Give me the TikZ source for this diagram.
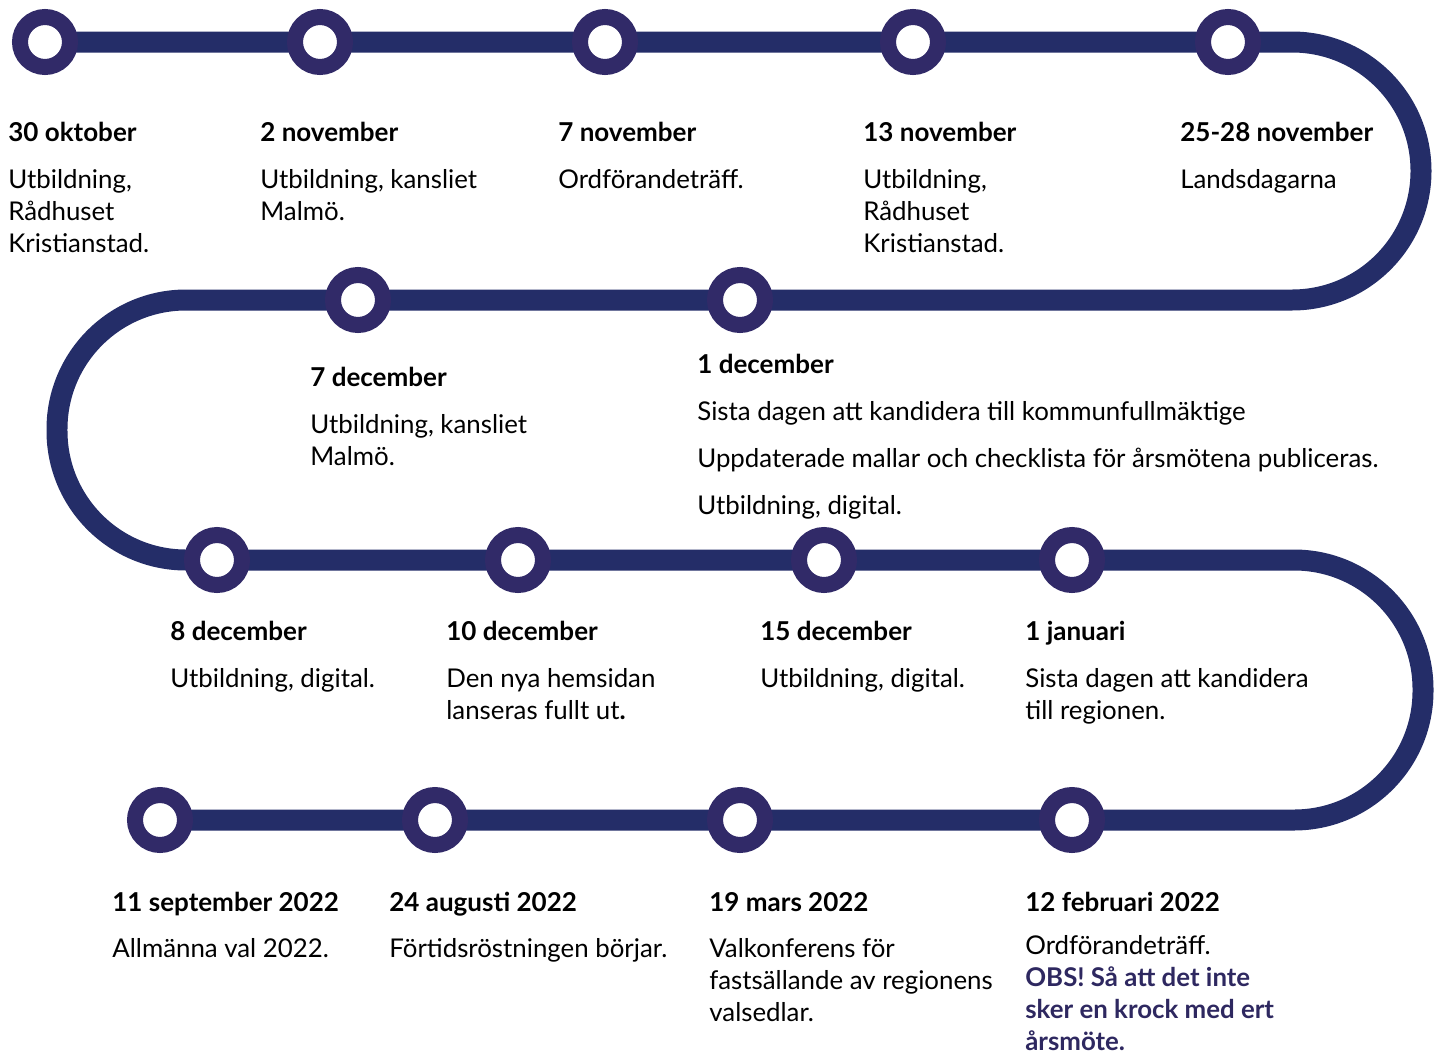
\documentclass[tikz,border=0pt]{standalone}
\usepackage{fontspec}
\setmainfont{Lato}
\usetikzlibrary{backgrounds}
\definecolor{trackblue}{RGB}{36,45,104}
\definecolor{ringblue}{RGB}{49,42,104}
\definecolor{obsblue}{RGB}{46,40,96}

\begin{document}
\begin{tikzpicture}[x=0.02cm,y=-0.02cm,
  station/.style={circle,draw=ringblue,fill=white,line width=0.32cm,minimum size=1cm,inner sep=0pt},
  datum/.style={anchor=base west,inner sep=0pt,font=\fontsize{14.8}{18.1}\selectfont\bfseries},
  info/.style={anchor=base west,inner sep=0pt,align=left,font=\fontsize{14.7}{18.1}\selectfont},
  track/.style={trackblue,line width=0.42cm,rounded corners=2.58cm}]
\useasboundingbox (0,0) rectangle (1440,1055);
% stations, in the order of the track
\node[station] (s1) at (45,42) {};
\node[station] (s2) at (320,42) {};
\node[station] (s3) at (605,42) {};
\node[station] (s4) at (913,42) {};
\node[station] (s5) at (1228,42) {};
\node[station] (s6) at (740,300) {};
\node[station] (s7) at (358,300) {};
\node[station] (s8) at (217,560) {};
\node[station] (s9) at (518,560) {};
\node[station] (s10) at (824,560) {};
\node[station] (s11) at (1072,560) {};
\node[station] (s12) at (1072,820) {};
\node[station] (s13) at (740,820) {};
\node[station] (s14) at (435,820) {};
\node[station] (s15) at (160,820) {};
% turning points
\coordinate (c1) at (1421,42);
\coordinate (c2) at (1421,300);
\coordinate (c3) at (57,300);
\coordinate (c4) at (57,560);
\coordinate (c5) at (1423,560);
\coordinate (c6) at (1423,820);
\begin{scope}[on background layer]
\draw[track] (s1.center) -- (c1) -- (c2) -- (c3) -- (c4) -- (c5) -- (c6) -- (s15.center);
\end{scope}
% row 1 (info nodes sit on their last line)
\node[datum] (t1) at (8,141) {30 oktober};
\node[info] (b1) at (8,252) {Utbildning,\\Rådhuset\\Kristianstad.};
\node[datum] (t2) at (260,141) {2 november};
\node[info] (b2) at (260,220) {Utbildning, kansliet\\Malmö.};
\node[datum] (t3) at (558,141) {7 november};
\node[info] (b3) at (558,188) {Ordförandeträff.};
\node[datum] (t4) at (863,141) {13 november};
\node[info] (b4) at (863,252) {Utbildning,\\Rådhuset\\Kristianstad.};
\node[datum] (t5) at (1180,141) {25-28 november};
\node[info] (b5) at (1180,188) {Landsdagarna};
% row 2
\node[datum] (t7) at (310,386) {7 december};
\node[info] (b7) at (310,465) {Utbildning, kansliet\\Malmö.};
\node[datum] (t6) at (697,373) {1 december};
\node[info] (b6) at (697,514) {Sista dagen att kandidera till kommunfullmäktige\\[8.5pt]
  Uppdaterade mallar och checklista för årsmötena publiceras.\\[8.5pt]
  Utbildning, digital.};
% row 3
\node[datum] (t8) at (170,640) {8 december};
\node[info] (b8) at (170,687) {Utbildning, digital.};
\node[datum] (t9) at (446,640) {10 december};
\node[info] (b9) at (446,719) {Den nya hemsidan\\lanseras fullt ut\textbf{.}};
\node[datum] (t10) at (760,640) {15 december};
\node[info] (b10) at (760,687) {Utbildning, digital.};
\node[datum] (t11) at (1025,640) {1 januari};
\node[info] (b11) at (1025,719) {Sista dagen att kandidera\\till regionen.};
% row 4
\node[datum] (t15) at (112,911) {11 september 2022};
\node[info] (b15) at (112,957) {Allmänna val 2022.};
\node[datum] (t14) at (389,911) {24 augusti 2022};
\node[info] (b14) at (389,957) {Förtidsröstningen börjar.};
\node[datum] (t13) at (709,911) {19 mars 2022};
\node[info] (b13) at (709,1021) {Valkonferens för\\fastsällande av regionens\\valsedlar.};
\node[datum] (t12) at (1025,911) {12 februari 2022};
\node[info] (b12) at (1025,1050) {Ordförandeträff.\\
  \textbf{\color{obsblue}OBS! Så att det inte}\\
  \textbf{\color{obsblue}sker en krock med ert}\\
  \textbf{\color{obsblue}årsmöte.}};
\end{tikzpicture}
\end{document}
